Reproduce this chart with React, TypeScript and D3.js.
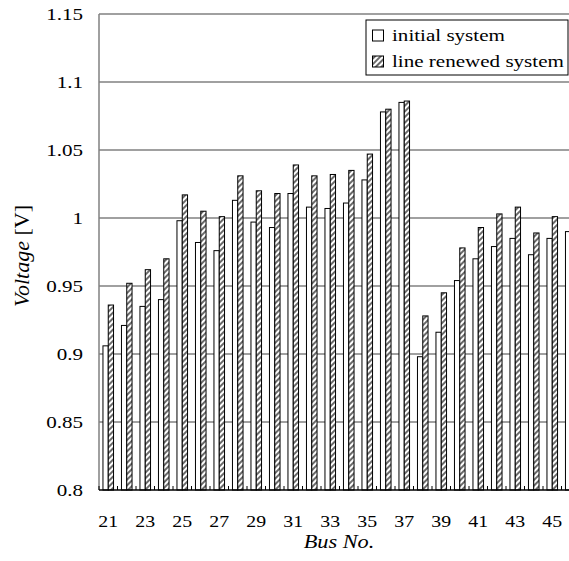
import React from "react";
import * as d3 from "d3";

const buses = [21,22,23,24,25,26,27,28,29,30,31,32,33,34,35,36,37,38,39,40,41,42,43,44,45,46];
const initialSystem = [0.906,0.921,0.935,0.940,0.998,0.982,0.976,1.013,0.997,0.993,1.018,1.008,1.007,1.011,1.028,1.078,1.085,0.898,0.916,0.954,0.970,0.979,0.985,0.973,0.985,0.990];
const renewedSystem: (number | null)[] = [0.936,0.952,0.962,0.970,1.017,1.005,1.001,1.031,1.020,1.018,1.039,1.031,1.032,1.035,1.047,1.080,1.086,0.928,0.945,0.978,0.993,1.003,1.008,0.989,1.001,null];
const yTicks = [0.8,0.85,0.9,0.95,1,1.05,1.1,1.15];
const xLabels = [21,23,25,27,29,31,33,35,37,39,41,43,45];
const seriesNames = ["initial system", "line renewed system"];

const W = 569, H = 561;
const FONT = "\"Liberation Serif\", \"Times New Roman\", Tinos, serif";
const SX = 1.24;
const ts: React.CSSProperties = { fontFamily: FONT };

export default function App() {
  const left = 99, top = 14, bottom = 490;
  const step = 18.5;
  const x = d3.scaleBand<number>().domain(buses).range([left, left + buses.length * step]).paddingInner(0).paddingOuter(0);
  const xs = d3.scaleBand<string>().domain(seriesNames).range([0, x.bandwidth()]).paddingInner(0).paddingOuter(0.75);
  const y = d3.scaleLinear().domain([0.8, 1.15]).range([bottom, top]);
  const right = W;

  return (
    <svg width={W} height={H} style={{ position: "absolute", left: 0, top: 0, background: "#fff", fontFamily: FONT }}>
      <defs>
        <pattern id="hatch" patternUnits="userSpaceOnUse" width={4} height={4} patternTransform="rotate(45)">
          <rect width={4} height={4} fill="#fff" />
          <rect x={0} y={0} width={2} height={4} fill="#6a6a6a" />
        </pattern>
      </defs>
      <rect x={0} y={0} width={W} height={H} fill="#fff" />
      {yTicks.filter(t => t > 0.8).map(t => (
        <line key={t} x1={left} x2={right} y1={y(t)} y2={y(t)} stroke="#808080" strokeWidth={1.5} />
      ))}
      <line x1={left} x2={left} y1={top} y2={bottom} stroke="#808080" strokeWidth={1.5} />
      {buses.map((b, i) => {
        const x0 = x(b)!;
        const v1 = initialSystem[i];
        const v2 = renewedSystem[i];
        return (
          <g key={b}>
            <rect x={x0 + xs(seriesNames[0])!} y={y(v1)} width={xs.bandwidth()} height={bottom - y(v1)} fill="#fff" stroke="#000" strokeWidth={1} />
            {v2 != null && (
              <rect x={x0 + xs(seriesNames[1])!} y={y(v2)} width={xs.bandwidth()} height={bottom - y(v2)} fill="url(#hatch)" stroke="#000" strokeWidth={1} />
            )}
          </g>
        );
      })}
      <line x1={left} x2={right} y1={bottom} y2={bottom} stroke="#000" strokeWidth={1.5} />
      {buses.map(b => (
        <line key={"t" + b} x1={x(b)!} x2={x(b)!} y1={bottom} y2={bottom - 4} stroke="#000" strokeWidth={1} />
      ))}
      {yTicks.map(t => (
        <text key={"y" + t} style={ts} transform={`translate(83,${y(t) + 6}) scale(${SX},1)`} textAnchor="end" fontSize={17} fill="#000">
          {d3.format("~g")(t)}
        </text>
      ))}
      {xLabels.map(l => (
        <text key={"x" + l} style={ts} transform={`translate(${x(l)! + x.bandwidth() / 2},527) scale(${SX},1)`} textAnchor="middle" fontSize={16} fill="#000">
          {l}
        </text>
      ))}
      <text style={ts} transform={`translate(339,548) scale(${SX},1)`} textAnchor="middle" fontSize={18} fontStyle="italic" fill="#000">Bus No.</text>
      <text style={ts} transform={`translate(29,256) rotate(-90)`} textAnchor="middle" fontSize={22} fill="#000">
        <tspan fontStyle="italic">Voltage</tspan><tspan> [V]</tspan>
      </text>
      <rect x={366} y={20} width={202} height={55} fill="#fff" stroke="#000" strokeWidth={1} />
      <rect x={372.5} y={30} width={11} height={11} fill="#fff" stroke="#000" strokeWidth={1} />
      <text style={ts} transform={`translate(392,41) scale(${SX},1)`} fontSize={17} fill="#000">{seriesNames[0]}</text>
      <rect x={372.5} y={56} width={11} height={11} fill="url(#hatch)" stroke="#000" strokeWidth={1} />
      <text style={ts} transform={`translate(392,67) scale(${SX},1)`} fontSize={17} fill="#000">{seriesNames[1]}</text>
    </svg>
  );
}
